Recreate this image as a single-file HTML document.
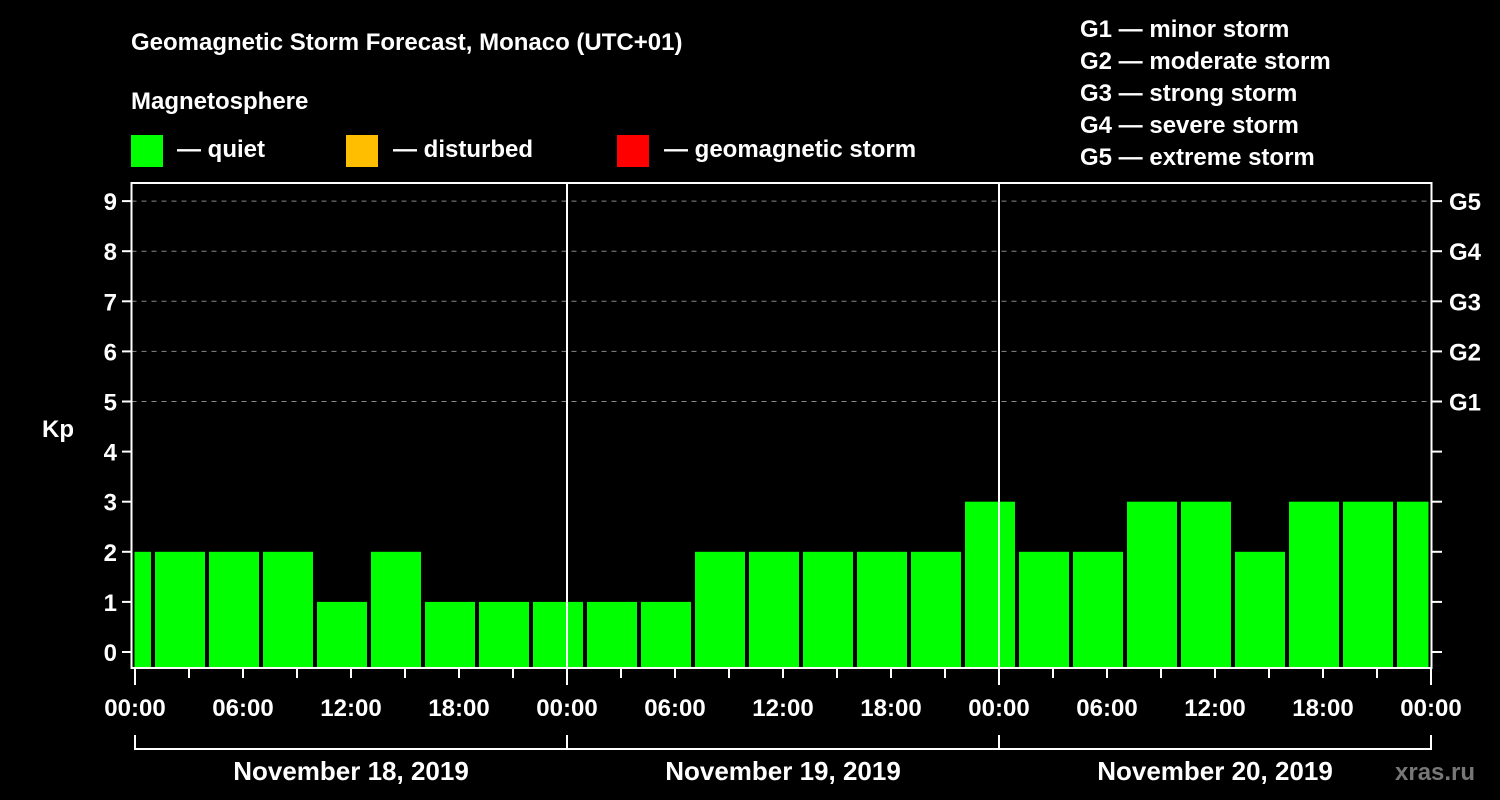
<!DOCTYPE html>
<html><head><meta charset="utf-8"><style>
body{margin:0;background:#000;width:1500px;height:800px;overflow:hidden}
svg{display:block}
text{font-family:"Liberation Sans",Arial,sans-serif;font-weight:bold;fill:#fff}
</style></head><body>
<svg id="c" width="1500" height="800">
<text x="131" y="50" font-size="24">Geomagnetic Storm Forecast, Monaco (UTC+01)</text>
<text x="131" y="109" font-size="24">Magnetosphere</text>
<rect x="131" y="135" width="32" height="32" fill="#00ff00"/>
<text x="177" y="157" font-size="24">— quiet</text>
<rect x="346" y="135" width="32" height="32" fill="#ffbf00"/>
<text x="393" y="157" font-size="24">— disturbed</text>
<rect x="617" y="135" width="32" height="32" fill="#ff0000"/>
<text x="664" y="157" font-size="24">— geomagnetic storm</text>
<g font-size="24">
<text x="1080" y="37">G1 — minor storm</text>
<text x="1080" y="69">G2 — moderate storm</text>
<text x="1080" y="101">G3 — strong storm</text>
<text x="1080" y="133">G4 — severe storm</text>
<text x="1080" y="165">G5 — extreme storm</text>
</g>
<text x="42" y="437" font-size="24">Kp</text>
<text x="1395" y="780" font-size="24" fill="#777" style="fill:#777">xras.ru</text>
<g id="grid"></g><g id="bars"></g><g id="axes"></g>
</svg>
<script>
const values=[2,2,2,2,1,2,1,1,1,1,1,2,2,2,2,2,3,2,2,3,3,2,3,3,3];
const yTicks=[0,1,2,3,4,5,6,7,8,9];
const gLabels=["","","","","","G1","G2","G3","G4","G5"];
const xLabels=["00:00","06:00","12:00","18:00"];
const days=["November 18, 2019","November 19, 2019","November 20, 2019"];
const X0=131.5,X1=1431.5,Y0=183,Y1=668;
const hx=h=>135+h*18; // hours from start
const ky=k=>652-k*50.1;
const NS="http://www.w3.org/2000/svg";
function mk(p,t,a){const e=document.createElementNS(NS,t);for(const k in a)e.setAttribute(k,a[k]);p.appendChild(e);return e;}
const grid=document.getElementById('grid'),bars=document.getElementById('bars'),axes=document.getElementById('axes');
yTicks.forEach(k=>{
 if(k>=5){const l=mk(grid,'line',{x1:X0,x2:X1,y1:ky(k),y2:ky(k),stroke:'#888','stroke-dasharray':'5,5'});
 
 }
 const t=mk(axes,'line',{x1:122,x2:X0,y1:ky(k),y2:ky(k),stroke:'#fff','stroke-width':2});
 
 
 const t2=mk(axes,'line',{x1:X1,x2:1442,y1:ky(k),y2:ky(k),stroke:'#fff','stroke-width':2});
 
 
 const lb=mk(axes,'text',{x:117,y:ky(k)+9,'font-size':24,'text-anchor':'end'});lb.textContent=k;
 
 
 if(gLabels[k]){const g=mk(axes,'text',{x:1449,y:ky(k)+9,'font-size':24});g.textContent=gLabels[k];
 
 }
});
values.forEach((v,i)=>{
 let a=hx(i*3-2)+2,b=hx(i*3+1)-2;
 a=Math.max(a,X0+3);b=Math.min(b,X1-3);
 const r=mk(bars,'rect',{x:a,y:ky(v),width:b-a,height:Y1-ky(v),fill:'#00ff00'});
 
 
});
[1,2].forEach(d=>{const l=mk(axes,'line',{x1:hx(d*24),x2:hx(d*24),y1:Y0,y2:Y1,stroke:'#fff','stroke-width':2});
 
 });
const fr=mk(axes,'rect',{x:X0,y:Y0,width:X1-X0,height:Y1-Y0,fill:'none',stroke:'#fff','stroke-width':2});


for(let h=0;h<=72;h+=3){
 const x=Math.min(hx(h),X1);
 const big=h%6==0;
 const t=mk(axes,'line',{x1:x,x2:x,y1:Y1,y2:h%24==0?685:678,stroke:'#fff','stroke-width':2});
 
 
 if(big){const lb=mk(axes,'text',{x:x,y:716,'font-size':24,'text-anchor':'middle'});lb.textContent=xLabels[(h%24)/6];
 
 }
}
days.forEach((d,i)=>{
 const a=hx(i*24),b=Math.min(hx(i*24+24),X1);
 const p=mk(axes,'path',{d:`M${a} 735V749H${b}V735`,fill:'none',stroke:'#fff','stroke-width':2});
 
 
 const t=mk(axes,'text',{x:(a+b)/2,y:780,'font-size':26,'text-anchor':'middle'});t.textContent=d;
 
 
});
</script>
</body></html>
